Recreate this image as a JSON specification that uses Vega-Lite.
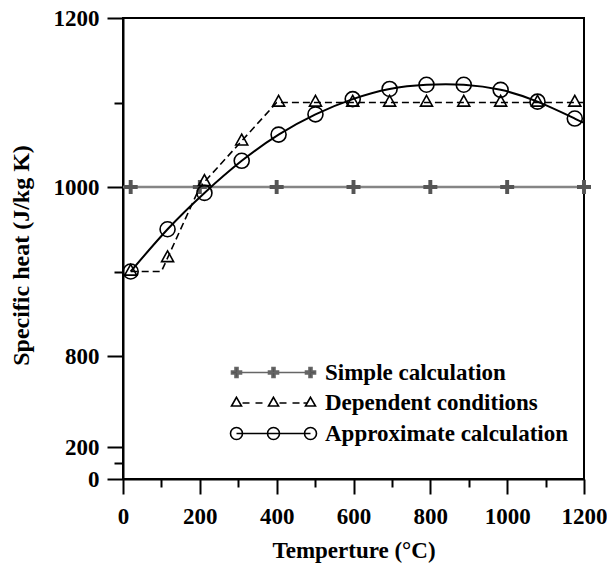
{
  "$schema": "https://vega.github.io/schema/vega-lite/v6.json",
  "width": 461,
  "height": 461,
  "autosize": "none",
  "padding": {"left": 123, "top": 18, "right": 23, "bottom": 86},
  "background": "white",
  "config": {
    "view": {"stroke": "black", "strokeWidth": 2},
    "axis": {
      "labelFont": "Liberation Serif",
      "labelFontWeight": "bold",
      "labelFontSize": 23,
      "labelColor": "#000000",
      "titleFont": "Liberation Serif",
      "titleFontWeight": "bold",
      "titleFontSize": 23,
      "titleColor": "#000000",
      "domainColor": "#000000",
      "domainWidth": 2,
      "tickColor": "#000000",
      "tickWidth": 2,
      "grid": false,
      "labelOverlap": false
    }
  },
  "datasets": {
    "lines": [
      {"series": "Simple calculation", "T": 0, "cp": 1000},
      {"series": "Simple calculation", "T": 1200, "cp": 1000},
      {"series": "Dependent conditions", "T": 20, "cp": 900},
      {"series": "Dependent conditions", "T": 100, "cp": 900},
      {"series": "Dependent conditions", "T": 200, "cp": 1000},
      {"series": "Dependent conditions", "T": 400, "cp": 1100},
      {"series": "Dependent conditions", "T": 1200, "cp": 1100},
      {"series": "Approximate calculation", "T": 20, "cp": 900},
      {"series": "Approximate calculation", "T": 116, "cp": 950},
      {"series": "Approximate calculation", "T": 212, "cp": 993},
      {"series": "Approximate calculation", "T": 309, "cp": 1031},
      {"series": "Approximate calculation", "T": 405, "cp": 1062},
      {"series": "Approximate calculation", "T": 501, "cp": 1086},
      {"series": "Approximate calculation", "T": 598, "cp": 1104},
      {"series": "Approximate calculation", "T": 694, "cp": 1116},
      {"series": "Approximate calculation", "T": 790, "cp": 1121},
      {"series": "Approximate calculation", "T": 887, "cp": 1121},
      {"series": "Approximate calculation", "T": 983, "cp": 1115},
      {"series": "Approximate calculation", "T": 1079, "cp": 1101},
      {"series": "Approximate calculation", "T": 1176, "cp": 1081},
      {"series": "Approximate calculation", "T": 1200, "cp": 1076}
    ],
    "markers": [
      {"series": "Simple calculation", "T": 20, "cp": 1000},
      {"series": "Simple calculation", "T": 200, "cp": 1000},
      {"series": "Simple calculation", "T": 400, "cp": 1000},
      {"series": "Simple calculation", "T": 600, "cp": 1000},
      {"series": "Simple calculation", "T": 800, "cp": 1000},
      {"series": "Simple calculation", "T": 1000, "cp": 1000},
      {"series": "Simple calculation", "T": 1200, "cp": 1000},
      {"series": "Dependent conditions", "T": 20, "cp": 900},
      {"series": "Dependent conditions", "T": 116, "cp": 916},
      {"series": "Dependent conditions", "T": 212, "cp": 1006},
      {"series": "Dependent conditions", "T": 309, "cp": 1054},
      {"series": "Dependent conditions", "T": 405, "cp": 1100},
      {"series": "Dependent conditions", "T": 501, "cp": 1100},
      {"series": "Dependent conditions", "T": 598, "cp": 1100},
      {"series": "Dependent conditions", "T": 694, "cp": 1100},
      {"series": "Dependent conditions", "T": 790, "cp": 1100},
      {"series": "Dependent conditions", "T": 887, "cp": 1100},
      {"series": "Dependent conditions", "T": 983, "cp": 1100},
      {"series": "Dependent conditions", "T": 1079, "cp": 1100},
      {"series": "Dependent conditions", "T": 1176, "cp": 1100},
      {"series": "Approximate calculation", "T": 20, "cp": 900},
      {"series": "Approximate calculation", "T": 116, "cp": 950},
      {"series": "Approximate calculation", "T": 212, "cp": 993},
      {"series": "Approximate calculation", "T": 309, "cp": 1031},
      {"series": "Approximate calculation", "T": 405, "cp": 1062},
      {"series": "Approximate calculation", "T": 501, "cp": 1086},
      {"series": "Approximate calculation", "T": 598, "cp": 1104},
      {"series": "Approximate calculation", "T": 694, "cp": 1116},
      {"series": "Approximate calculation", "T": 790, "cp": 1121},
      {"series": "Approximate calculation", "T": 887, "cp": 1121},
      {"series": "Approximate calculation", "T": 983, "cp": 1115},
      {"series": "Approximate calculation", "T": 1079, "cp": 1101},
      {"series": "Approximate calculation", "T": 1176, "cp": 1081}
    ]
  },
  "encoding": {
    "x": {
      "field": "T",
      "type": "quantitative",
      "scale": {"domain": [0, 1200], "nice": false, "zero": false},
      "axis": {
        "title": "Temperture (°C)",
        "values": [0, 100, 200, 300, 400, 500, 600, 700, 800, 900, 1000, 1100, 1200],
        "format": "d",
        "labelExpr": "datum.value % 200 === 0 ? datum.label : ''",
        "tickSize": {"condition": {"test": "datum.value % 200 !== 0", "value": 8}, "value": 15},
        "labelPadding": 11,
        "labelFlush": false,
        "titlePadding": 11
      }
    },
    "y": {
      "field": "cp",
      "type": "quantitative",
      "scale": {"domain": [0, 200, 800, 1200], "range": [461, 429, 338, 0], "nice": false, "zero": false},
      "axis": {
        "title": "Specific heat (J/kg K)",
        "values": [0, 100, 200, 800, 900, 1000, 1100, 1200],
        "format": "d",
        "labelExpr": "datum.value % 200 === 0 ? datum.label : ''",
        "tickSize": {"condition": {"test": "datum.value % 200 !== 0", "value": 9}, "value": 16},
        "labelPadding": 8,
        "titlePadding": 20,
        "titleFontSize": 24,
        "titleColor": "#000000",
        "titleY": 237
      }
    }
  },
  "layer": [
    {
      "data": {"name": "lines"},
      "transform": [{"filter": "datum.series === 'Simple calculation'"}],
      "mark": {"type": "line", "color": "#858585", "strokeWidth": 2.5}
    },
    {
      "data": {"name": "lines"},
      "transform": [{"filter": "datum.series === 'Dependent conditions'"}],
      "mark": {"type": "line", "color": "black", "strokeWidth": 1.6, "strokeDash": [7, 4]}
    },
    {
      "data": {"name": "lines"},
      "transform": [{"filter": "datum.series === 'Approximate calculation'"}],
      "mark": {"type": "line", "color": "black", "strokeWidth": 2, "interpolate": "natural"}
    },
    {
      "data": {"name": "markers"},
      "transform": [{"filter": "datum.series === 'Simple calculation'"}],
      "mark": {"type": "point", "shape": "M-1,-0.28L-0.28,-0.28L-0.28,-1L0.28,-1L0.28,-0.28L1,-0.28L1,0.28L0.28,0.28L0.28,1L-0.28,1L-0.28,0.28L-1,0.28Z", "size": 196, "filled": true, "fill": "#555555", "strokeWidth": 0, "opacity": 1}
    },
    {
      "data": {"name": "markers"},
      "transform": [{"filter": "datum.series === 'Dependent conditions'"}],
      "mark": {"type": "point", "shape": "M0,-1.2L-1,0.6L1,0.6Z", "size": 144, "filled": false, "stroke": "black", "strokeWidth": 1.6, "opacity": 1}
    },
    {
      "data": {"name": "markers"},
      "transform": [{"filter": "datum.series === 'Approximate calculation'"}],
      "mark": {"type": "point", "shape": "circle", "size": 225, "filled": false, "stroke": "black", "strokeWidth": 1.6, "opacity": 1}
    },
    {
      "data": {"name": "markers"},
      "transform": [{"filter": "false"}],
      "mark": {"type": "point", "opacity": 1, "strokeWidth": 1.6},
      "encoding": {
        "shape": {
          "field": "series",
          "type": "nominal",
          "scale": {
            "domain": ["Simple calculation", "Dependent conditions", "Approximate calculation"],
            "range": [
              "M0,0L14.8,0M-1,-0.3L-0.3,-0.3L-0.3,-1L0.3,-1L0.3,-0.3L1,-0.3L1,0.3L0.3,0.3L0.3,1L-0.3,1L-0.3,0.3L-1,0.3ZM6.4,-0.3L7.1,-0.3L7.1,-1L7.7,-1L7.7,-0.3L8.4,-0.3L8.4,0.3L7.7,0.3L7.7,1L7.1,1L7.1,0.3L6.4,0.3ZM13.8,-0.3L14.5,-0.3L14.5,-1L15.1,-1L15.1,-0.3L15.8,-0.3L15.8,0.3L15.1,0.3L15.1,1L14.5,1L14.5,0.3L13.8,0.3Z",
              "M0,-1.15L-1,0.6L1,0.6ZM7.4,-1.15L6.4,0.6L8.4,0.6ZM14.8,-1.15L13.8,0.6L15.8,0.6ZM1.2,0L2.6,0M3.8,0L5.2,0M8.6,0L10,0M11.2,0L12.6,0M13.4,0L14.2,0",
              "M0,0L14.8,0M1.2,0C1.2,0.663,0.663,1.2,0,1.2C-0.663,1.2,-1.2,0.663,-1.2,0C-1.2,-0.663,-0.663,-1.2,0,-1.2C0.663,-1.2,1.2,-0.663,1.2,0ZM8.6,0C8.6,0.663,8.063,1.2,7.4,1.2C6.737,1.2,6.2,0.663,6.2,0C6.2,-0.663,6.737,-1.2,7.4,-1.2C8.063,-1.2,8.6,-0.663,8.6,0ZM16,0C16,0.663,15.463,1.2,14.8,1.2C14.137,1.2,13.6,0.663,13.6,0C13.6,-0.663,14.137,-1.2,14.8,-1.2C15.463,-1.2,16,-0.663,16,0Z"
            ]
          },
          "legend": {"title": null, "orient": "none", "legendX": 102, "legendY": 343, "symbolSize": 100, "symbolStrokeWidth": 1.6, "labelFont": "Liberation Serif", "labelFontWeight": "bold", "labelFontSize": 23, "labelColor": "black", "labelOffset": 77, "rowPadding": 6.5, "padding": 0, "labelLimit": 0}
        },
        "stroke": {
          "field": "series",
          "type": "nominal",
          "scale": {"domain": ["Simple calculation", "Dependent conditions", "Approximate calculation"], "range": ["#666666", "black", "black"]},
          "legend": {"title": null, "orient": "none", "legendX": 102, "legendY": 343, "symbolSize": 100, "symbolStrokeWidth": 1.6, "labelFont": "Liberation Serif", "labelFontWeight": "bold", "labelFontSize": 23, "labelColor": "black", "labelOffset": 77, "rowPadding": 6.5, "padding": 0, "labelLimit": 0}
        },
        "fill": {
          "field": "series",
          "type": "nominal",
          "scale": {"domain": ["Simple calculation", "Dependent conditions", "Approximate calculation"], "range": ["#555555", "transparent", "transparent"]},
          "legend": {"title": null, "orient": "none", "legendX": 102, "legendY": 343, "symbolSize": 100, "symbolStrokeWidth": 1.6, "labelFont": "Liberation Serif", "labelFontWeight": "bold", "labelFontSize": 23, "labelColor": "black", "labelOffset": 77, "rowPadding": 6.5, "padding": 0, "labelLimit": 0}
        }
      }
    },
    {
      "mark": {"type": "rule", "color": "black", "strokeWidth": 2},
      "encoding": {
        "x": {"datum": -26, "type": "quantitative"},
        "x2": {"datum": 26},
        "y": {"datum": 292, "type": "quantitative"},
        "y2": {"datum": 332}
      }
    },
    {
      "mark": {"type": "rule", "color": "black", "strokeWidth": 2},
      "encoding": {
        "x": {"datum": -26, "type": "quantitative"},
        "x2": {"datum": 26},
        "y": {"datum": 272, "type": "quantitative"},
        "y2": {"datum": 312}
      }
    }
  ]
}
